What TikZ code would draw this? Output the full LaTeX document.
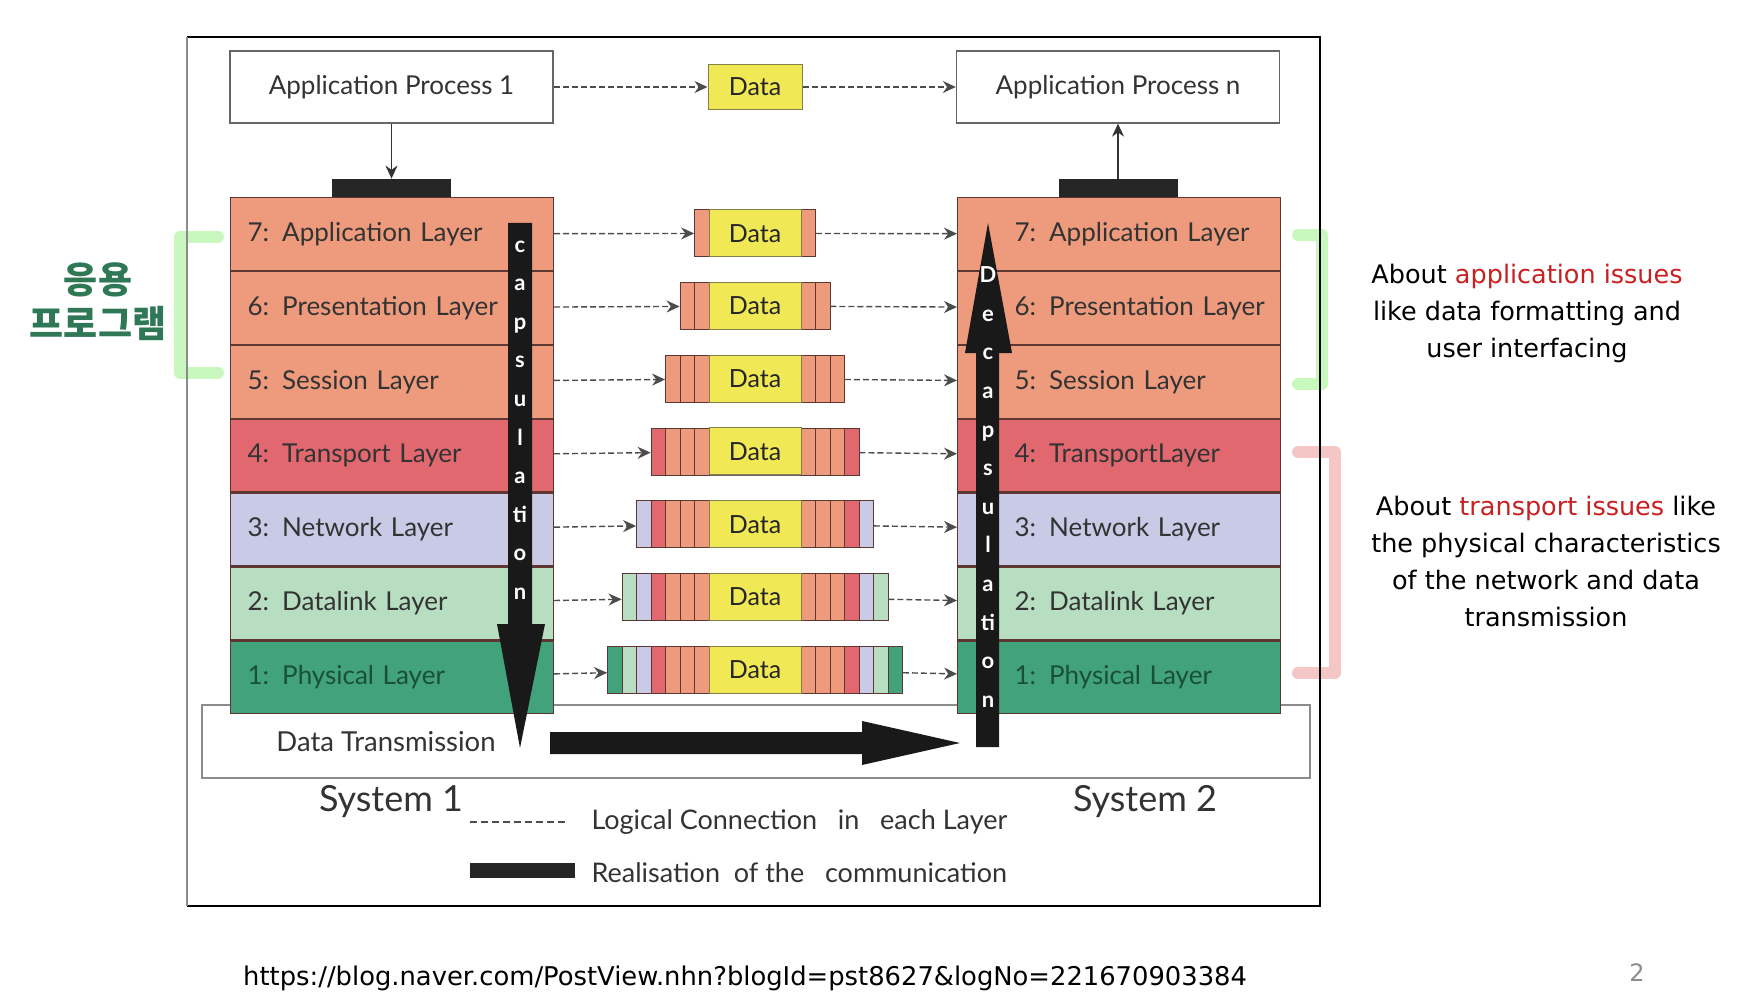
\documentclass[tikz,border=0pt]{standalone}
\usepackage{fontspec}
\setmainfont{Lato}
\newfontfamily\krfont{Noto Sans CJK KR}
\newfontfamily\notefont{DejaVu Sans}
\usetikzlibrary{positioning,arrows.meta}

\definecolor{salmon}{RGB}{238,155,125}
\definecolor{transred}{RGB}{226,104,112}
\definecolor{netblue}{RGB}{200,202,230}
\definecolor{linkgreen}{RGB}{184,222,194}
\definecolor{physgreen}{RGB}{66,162,124}
\definecolor{datayellow}{RGB}{240,232,84}
\definecolor{edgebrown}{RGB}{95,55,50}
\definecolor{krgreen}{RGB}{46,120,86}
\definecolor{issuered}{RGB}{200,32,32}
\definecolor{brgreen}{RGB}{200,248,190}
\definecolor{brpink}{RGB}{245,198,198}
\colorlet{lay7}{salmon}
\colorlet{lay6}{salmon}
\colorlet{lay5}{salmon}
\colorlet{lay4}{transred}
\colorlet{lay3}{netblue}
\colorlet{lay2}{linkgreen}
\colorlet{lay1}{physgreen}

\tikzset{
  layer/.style={draw=edgebrown, line width=1.2pt, minimum width=323pt, minimum height=72.7pt,
    inner sep=0pt, text width=289pt, align=left, font=\fontsize{26}{30}\selectfont, text=black!80},
  rlayer/.style={layer, text width=321pt},
  procbox/.style={draw=black!60, line width=1.3pt, fill=white, minimum width=323pt,
    minimum height=72pt, font=\fontsize{26}{30}\selectfont, text=black!80},
  databox/.style={draw=black!55!yellow, line width=1pt, fill=datayellow, minimum width=92pt,
    minimum height=47pt, inner sep=0pt, font=\fontsize{25}{30}\selectfont, text=black!85},
  packet/.style={draw=black!60, line width=0.8pt, minimum height=47pt, inner sep=0pt},
  strip/.style={draw=edgebrown, line width=0.8pt},
  logic/.style={->, dash pattern=on 6pt off 3pt, line width=1.4pt, draw=black!70},
  barletters/.style={text=white, align=center, inner sep=0pt, font=\bfseries\fontsize{22}{38.6}\selectfont},
  legend/.style={font=\fontsize{27}{30}\selectfont, text=black!80},
  bracket/.style={line width=12pt, line cap=round, line join=round}
}

\begin{document}
\begin{tikzpicture}[x=1pt,y=-1pt,>={Stealth[length=13pt,width=12pt]}]
  \useasboundingbox (0,0) rectangle (1753,1000);

  % side brackets
  \draw[bracket, brgreen] (218,237) -- (180,237) -- (180,373) -- (218,373);
  \draw[bracket, brgreen] (1298,235) -- (1322,235) -- (1322,384) -- (1298,384);
  \draw[bracket, brpink] (1298,452) -- (1335,452) -- (1335,673) -- (1298,673);

  % transmission medium
  \node[draw=black!45, line width=1.5pt, fill=white, minimum width=1108pt, minimum height=73pt,
    anchor=north west] (trans) at (201,704) {};
  \node[legend, font=\fontsize{27.5}{30}\selectfont] (translabel) at (386,742) {Data Transmission};

  % application processes
  \node[procbox] (AP1) at (391.5,87) {Application Process 1};
  \node[procbox] (APn) at (1118,87) {Application Process n};
  \node[databox, minimum width=94pt, minimum height=45pt] (d0) at (755,87) {Data};
  \draw[logic] (AP1) -- (d0);
  \draw[logic] (d0) -- (APn);

  % system 1
  \node[layer, fill=salmon, anchor=north west] (L7) at (230,197) {7: Application Layer};
  \node[layer, fill=salmon, below=0pt of L7] (L6) {6: Presentation Layer};
  \node[layer, fill=salmon, below=0pt of L6] (L5) {5: Session Layer};
  \node[layer, fill=transred, below=0pt of L5] (L4) {4: Transport Layer};
  \node[layer, fill=netblue, below=0pt of L4] (L3) {3: Network Layer};
  \node[layer, fill=linkgreen, below=0pt of L3] (L2) {2: Datalink Layer};
  \node[layer, fill=physgreen, text={rgb,255:red,25;green,80;blue,55}, below=0pt of L2] (L1) {1: Physical Layer};

  % system 2
  \node[rlayer, fill=salmon, anchor=north west] (R7) at (957,197) {\hspace*{56pt}7: Application Layer};
  \node[rlayer, fill=salmon, below=0pt of R7] (R6) {\hspace*{56pt}6: Presentation Layer};
  \node[rlayer, fill=salmon, below=0pt of R6] (R5) {\hspace*{56pt}5: Session Layer};
  \node[rlayer, fill=transred, below=0pt of R5] (R4) {\hspace*{56pt}4: TransportLayer};
  \node[rlayer, fill=netblue, below=0pt of R4] (R3) {\hspace*{56pt}3: Network Layer};
  \node[rlayer, fill=linkgreen, below=0pt of R3] (R2) {\hspace*{56pt}2: Datalink Layer};
  \node[rlayer, fill=physgreen, text={rgb,255:red,25;green,80;blue,55}, below=0pt of R2] (R1) {\hspace*{56pt}1: Physical Layer};

  \node[fill=black!85, minimum width=119pt, minimum height=18pt, inner sep=0pt, anchor=south] (bar1) at (391,197) {};
  \node[fill=black!85, minimum width=119pt, minimum height=18pt, inner sep=0pt, anchor=south] (bar2) at (1118,197) {};
  \draw[->, line width=1.3pt, black!80] (AP1.south) -- (AP1.south |- bar1.north);
  \draw[->, line width=1.3pt, black!80] (bar2.north) -- (bar2.north |- APn.south);

  % packets with headers per layer
  \foreach \k/\m in {7/1,6/2,5/3,4/4,3/5,2/6,1/7} {
    \pgfmathsetmacro\yy{197+(7-\k)*72.7+36.35}
    \node[packet, minimum width={92+29*\m}] (pk\k) at (755,\yy) {};
    \foreach \j in {1,...,\m} {
      \pgfmathtruncatemacro\c{8-\j}
      \draw[strip, fill=lay\c] ({709-14.5*\j},{\yy-23.5}) rectangle ++(14.5,47);
      \draw[strip, fill=lay\c] ({801+14.5*(\j-1)},{\yy-23.5}) rectangle ++(14.5,47);
    }
    \node[databox] (d\k) at (755,\yy) {Data};
    \draw[logic] (L\k) -- (pk\k);
    \draw[logic] (pk\k) -- (R\k);
  }

  % encapsulation / decapsulation
  \fill[black!90] (508,223) -- (532,223) -- (532,624) -- (545,624) -- (520,748) -- (497,624) -- (508,624) -- cycle;
  \node[barletters] (enc) at (520,420) {c\\a\\p\\s\\u\\l\\a\\ti\\o\\n};
  \fill[black!90] (976,747) -- (999,747) -- (999,353) -- (1012,353) -- (988,223) -- (965,353) -- (976,353) -- cycle;
  \node[barletters] (dec) at (988,487) {D\\e\\c\\a\\p\\s\\u\\l\\a\\ti\\o\\n};
  \fill[black!90] (550,732) -- (862,732) -- (862,721) -- (960,743) -- (862,765) -- (862,754) -- (550,754) -- cycle;

  % legend
  \node[legend, font=\fontsize{36}{40}\selectfont] (sys1) at (391,802) {System 1};
  \node[legend, font=\fontsize{36}{40}\selectfont] (sys2) at (1145,802) {System 2};
  \coordinate (lg1) at (470,822);
  \coordinate (lg2) at (568,822);
  \draw[dash pattern=on 7pt off 4pt, line width=1.4pt, black!70] (lg1) -- (lg2);
  \node[legend, anchor=west] (lgtext) at (588,822) {Logical Connection\ \ \ in\ \ \ each Layer};
  \node[fill=black!85, minimum width=105pt, minimum height=15pt, inner sep=0pt, anchor=west] (lgbar) at (470,870) {};
  \node[legend, anchor=west] (lgreal) at (588,873) {Realisation\ \ of the\ \ \ communication};

  % frame
  \draw[line width=2.5pt] (187,37) -- (1320,37) -- (1320,906) -- (187,906);
  \draw[black!45, line width=1.5pt] (187,37) -- (187,906);

  % notes
  \node[text=krgreen, align=center, font=\krfont\bfseries\fontsize{37}{44}\selectfont] (kr) at (98,302) {응용\\프로그램};
  \node[align=center, font=\notefont\fontsize{25.5}{37}\selectfont] (appnote) at (1527,313)
    {About \textcolor{issuered}{application issues}\\like data formatting and\\user interfacing};
  \node[align=center, font=\notefont\fontsize{25.5}{37}\selectfont] (tranote) at (1546,561)
    {About \textcolor{issuered}{transport issues} like\\the physical characteristics\\of the network and data\\transmission};
  \node[anchor=base west, inner sep=0pt, font=\notefont\fontsize{25.8}{30}\selectfont] (url) at (243,985)
    {https://blog.naver.com/PostView.nhn?blogId=pst8627\&logNo=221670903384};
  \node[text=black!45, font=\notefont\fontsize{24}{28}\selectfont] (pgno) at (1637,973) {2};
\end{tikzpicture}
\end{document}
